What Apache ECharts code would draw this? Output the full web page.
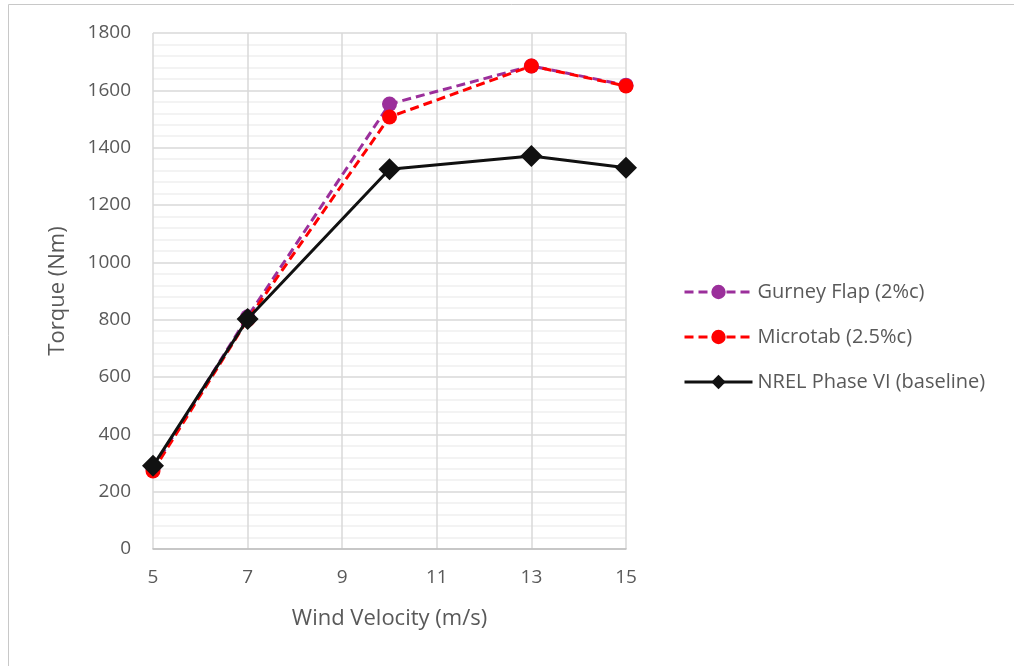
<!DOCTYPE html>
<html>
<head>
<meta charset="utf-8">
<script src="https://cdn.jsdelivr.net/npm/echarts@6/dist/echarts.min.js"></script>
<style>
  html, body { margin: 0; padding: 0; background: #fff; }
  #chart { width: 1014px; height: 666px; }
</style>
</head>
<body>
<div id="chart"></div>
<script>
// Wind velocities (m/s) and rotor torque (Nm) for each configuration
const windSpeeds = [5, 7, 10, 13, 15];
const gurneyFlap = [280, 810, 1552, 1685, 1618];
const microtab = [272, 800, 1507, 1685, 1615];
const baseline = [290, 802, 1325, 1371, 1330];
const seriesNames = ['Gurney Flap (2%c)', 'Microtab (2.5%c)', 'NREL Phase VI (baseline)'];

const pairs = vals => windSpeeds.map((x, i) => [x, vals[i]]);
const textColor = '#595959';
const font = 'Open Sans, Liberation Sans, sans-serif';

const chart = echarts.init(document.getElementById('chart'));
chart.setOption({
  animation: false,
  backgroundColor: '#fff',
  graphic: [{
    type: 'rect',
    shape: { x: 8.5, y: 4.5, width: 1100, height: 700 },
    style: { fill: 'none', stroke: '#c8c8c8', lineWidth: 1 },
    silent: true
  }],
  grid: { left: 153, right: 388, top: 33, bottom: 117 },
  legend: {
    orient: 'vertical',
    left: 678,
    top: 277,
    itemWidth: 68,
    itemHeight: 18,
    itemGap: 25,
    lineStyle: { width: 3 },
    textStyle: { color: textColor, fontSize: 20, fontFamily: font },
    data: seriesNames
  },
  xAxis: {
    type: 'value',
    min: 5, max: 15, interval: 2,
    name: 'Wind Velocity (m/s)',
    nameLocation: 'middle',
    nameGap: 59,
    nameTextStyle: { color: textColor, fontSize: 22, fontFamily: font },
    axisLine: { lineStyle: { color: '#bfbfbf', width: 1.5 } },
    axisTick: { show: false },
    axisLabel: { color: textColor, fontSize: 19, fontFamily: font, margin: 19 },
    splitLine: { show: true, lineStyle: { color: '#d9d9d9', width: 1.5 } }
  },
  yAxis: {
    type: 'value',
    min: 0, max: 1800, interval: 200,
    name: 'Torque (Nm)',
    nameLocation: 'middle',
    nameGap: 84,
    nameTextStyle: { color: textColor, fontSize: 22, fontFamily: font },
    axisLine: { show: false },
    axisTick: { show: false },
    axisLabel: { color: textColor, fontSize: 19, fontFamily: font, margin: 22, formatter: v => String(v) },
    splitLine: { show: true, lineStyle: { color: '#d9d9d9', width: 1.5 } },
    minorTick: { show: false, splitNumber: 5 },
    minorSplitLine: { show: true, lineStyle: { color: '#efefef', width: 1.5 } }
  },
  series: [
    {
      name: seriesNames[0],
      type: 'line',
      data: pairs(gurneyFlap),
      symbol: 'circle',
      symbolSize: 15,
      itemStyle: { color: '#9b2f9b' },
      lineStyle: { color: '#9b2f9b', width: 3, type: [9, 5] },
      z: 2
    },
    {
      name: seriesNames[1],
      type: 'line',
      data: pairs(microtab),
      symbol: 'circle',
      symbolSize: 15,
      itemStyle: { color: '#ff0000' },
      lineStyle: { color: '#ff0000', width: 3, type: [9, 5] },
      z: 3
    },
    {
      name: seriesNames[2],
      type: 'line',
      data: pairs(baseline),
      symbol: 'diamond',
      symbolSize: 22,
      itemStyle: { color: '#111111' },
      lineStyle: { color: '#111111', width: 3 },
      z: 4
    }
  ]
});
</script>
</body>
</html>
